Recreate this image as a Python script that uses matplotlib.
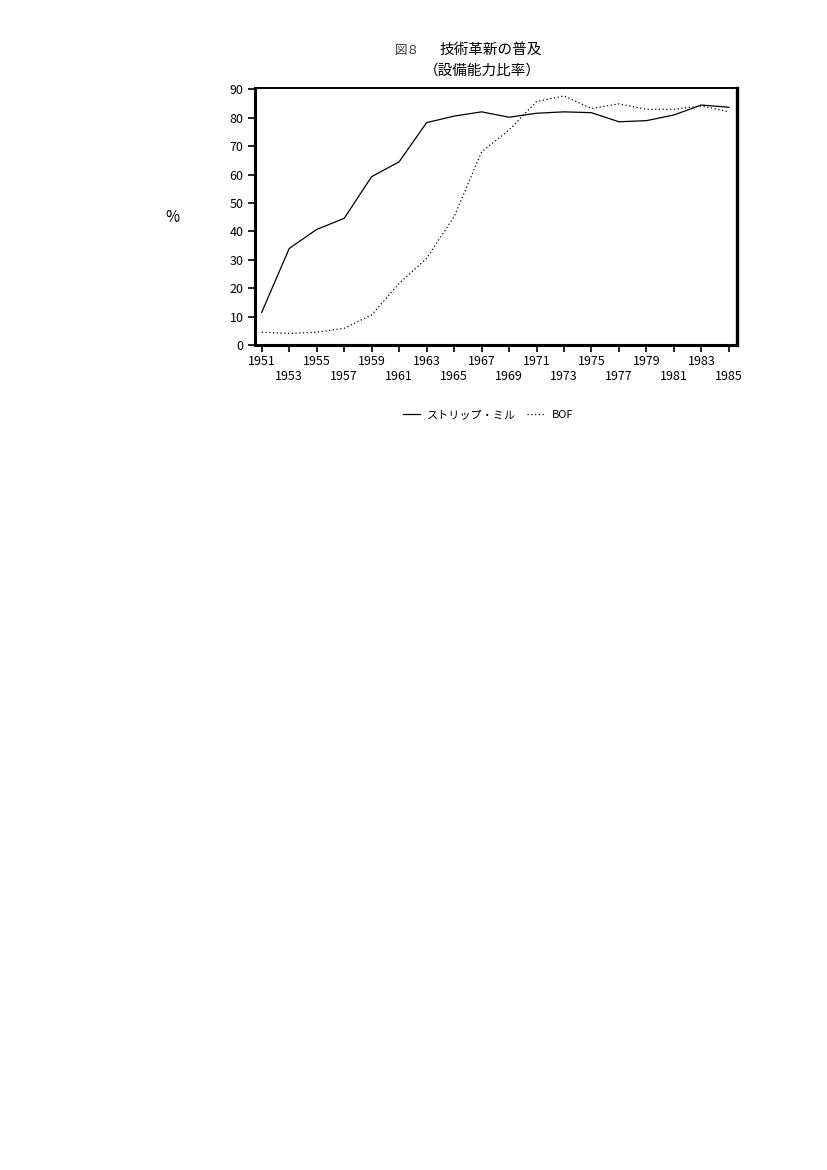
import matplotlib.pyplot as plt

plt.rcParams['font.family'] = ['Noto Sans CJK JP', 'DejaVu Sans']

# data (every two years)
years = [1951, 1953, 1955, 1957, 1959, 1961, 1963, 1965, 1967,
         1969, 1971, 1973, 1975, 1977, 1979, 1981, 1983, 1985]
strip_mill = [11.5, 34.0, 40.7, 44.6, 59.3, 64.5, 78.3, 80.6, 82.1,
              80.2, 81.6, 82.1, 81.8, 78.6, 79.0, 81.0, 84.5, 83.7]
bof = [4.5, 4.1, 4.5, 5.9, 10.6, 21.7, 30.5, 45.2, 68.0,
       75.7, 85.7, 87.7, 83.3, 84.9, 83.0, 83.0, 84.2, 82.1]
y_ticks = [0, 10, 20, 30, 40, 50, 60, 70, 80, 90]

fig = plt.figure(figsize=(8.27, 11.70), dpi=100)
ax = fig.add_axes([0.308, 0.7051, 0.583, 0.2197])

ax.plot(years, strip_mill, color='black', lw=0.9)
ax.plot(years, bof, color='black', lw=0.9, linestyle=(0, (1, 2)))

ax.set_xlim(1950.49, 1985.58)
ax.set_ylim(0, 90.5)
ax.set_yticks(y_ticks)
ax.set_yticklabels([str(v) for v in y_ticks], fontsize=9)

# staggered year labels, two rows
xlabels = [str(y) if i % 2 == 0 else '\n' + str(y) for i, y in enumerate(years)]
ax.set_xticks(years)
ax.set_xticklabels(xlabels, fontsize=9, linespacing=1.2)
ax.tick_params(axis='both', direction='out', length=5, width=1.2, colors='black')
ax.tick_params(axis='x', pad=2)
ax.tick_params(axis='y', pad=3)

for side in ['left', 'bottom']:
    ax.spines[side].set_linewidth(2.2)
ax.spines['right'].set_linewidth(2.4)
ax.spines['top'].set_linewidth(1.4)

# title and unit
fig.text(0.477, 0.957, '図８', fontsize=9, ha='left', va='center', color='#333333')
fig.text(0.531, 0.957, '技術革新の普及', fontsize=10.5, ha='left', va='center')
fig.text(0.512, 0.940, '（設備能力比率）', fontsize=10.5, ha='left', va='center')
fig.text(0.208, 0.814, '%', fontsize=11, ha='center', va='center')

# legend drawn below the axes
leg = fig.legend([ax.lines[0], ax.lines[1]], ['ストリップ・ミル', 'BOF'],
                 loc='center', bbox_to_anchor=(0.59, 0.645), ncol=2,
                 frameon=False, fontsize=8, handlelength=1.6,
                 handletextpad=0.6, columnspacing=1.0)

fig.savefig('out.png', dpi=100)
